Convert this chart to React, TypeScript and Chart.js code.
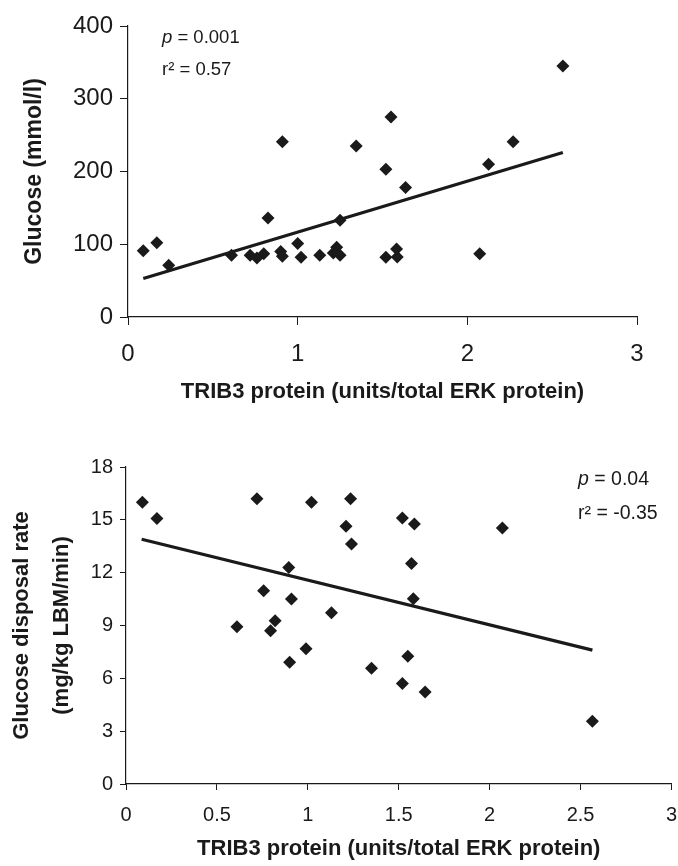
import React, { useEffect, useRef } from "react";
import { Chart, registerables } from "chart.js";

Chart.register(...registerables);

// ---------- Data (top panel: fasting glucose) ----------
const glucoseTrib3 = [
  0.09, 0.17, 0.24, 0.61, 0.72, 0.76, 0.8, 0.825, 0.9, 0.91, 0.91, 1.0, 1.02,
  1.13, 1.21, 1.23, 1.25, 1.25, 1.345, 1.52, 1.55, 1.52, 1.636, 1.583, 1.587,
  2.073, 2.125, 2.27, 2.563,
];
const glucoseValues = [
  91, 102, 71, 85, 85, 81, 87, 136, 90, 241, 83.5, 101, 82, 85, 88, 96, 85, 133,
  235, 203, 275, 82, 178, 93.5, 82.5, 87, 210, 241, 345,
];
const glucoseTrendX = [0.09, 2.563];
const glucoseTrendY = [52.8, 226];
const glucoseXTicks = [0, 1, 2, 3];
const glucoseYTicks = [0, 100, 200, 300, 400];

// ---------- Data (bottom panel: glucose disposal rate) ----------
const gdrTrib3 = [
  0.09, 0.17, 0.72, 1.02, 1.235, 1.21, 1.24, 0.895, 0.757, 0.91, 1.13, 0.61,
  0.82, 0.795, 0.99, 0.9, 1.35, 1.52, 1.586, 2.07, 1.57, 1.58, 1.55, 1.52,
  1.645, 2.565,
];
const gdrValues = [
  16.0, 15.07, 16.2, 16.0, 16.2, 14.63, 13.63, 12.3, 10.97, 10.5, 9.72, 8.93,
  9.27, 8.7, 7.68, 6.91, 6.57, 15.1, 14.77, 14.54, 12.52, 10.52, 7.25, 5.7,
  5.23, 3.57,
];
const gdrTrendX = [0.086, 2.565];
const gdrTrendY = [13.9, 7.6];
const gdrXTicks = [0, 0.5, 1, 1.5, 2, 2.5, 3];
const gdrYTicks = [0, 3, 6, 9, 12, 15, 18];

const xTitle = "TRIB3 protein (units/total ERK protein)";
const glucoseYTitle = "Glucose (mmol/l)";
const gdrYTitle = ["Glucose disposal rate", "(mg/kg LBM/min)"];
const glucoseStats = [
  ["p", " = 0.001"],
  ["", "r\u00B2 = 0.57"],
];
const gdrStats = [
  ["p", " = 0.04"],
  ["", "r\u00B2 = -0.35"],
];

const INK = "#1a1a1a";
const SANS = "'Liberation Sans', Arial, Helvetica, sans-serif";

type PanelSpec = {
  xs: number[];
  ys: number[];
  trendX: number[];
  trendY: number[];
  xTicks: number[];
  yTicks: number[];
  yTitle: string | string[];
  stats: string[][];
  width: number;
  height: number;
  yAxisWidth: number;
  xAxisHeight: number;
  padTop: number;
  padRight: number;
  tickFont: number;
  xTickLen: number;
  yTickLen: number;
  xTickPad: number;
  yTickPad: number;
  yTitleFont: number;
  yTitlePadTop: number;
  yTitleLineHeight: number | string;
  xTitlePadBottom: number;
  statsX: number;
  statsY: number[];
  statsFont: number;
};

function statsPlugin(spec: PanelSpec) {
  return {
    id: "statsText",
    afterDraw(chart: any) {
      const ctx = chart.ctx as CanvasRenderingContext2D;
      ctx.save();
      ctx.fillStyle = INK;
      ctx.textBaseline = "middle";
      ctx.textAlign = "left";
      spec.stats.forEach((parts, i) => {
        let x = spec.statsX;
        const y = spec.statsY[i];
        if (parts[0]) {
          ctx.font = `italic ${spec.statsFont}px ${SANS}`;
          ctx.fillText(parts[0], x, y);
          x += ctx.measureText(parts[0]).width;
        }
        ctx.font = `${spec.statsFont}px ${SANS}`;
        ctx.fillText(parts[1], x, y);
      });
      ctx.restore();
    },
  };
}

function buildConfig(spec: PanelSpec): any {
  const points = spec.xs.map((x, i) => ({ x, y: spec.ys[i] }));
  const trend = spec.trendX.map((x, i) => ({ x, y: spec.trendY[i] }));
  const yMax = spec.yTicks[spec.yTicks.length - 1];
  const xMax = spec.xTicks[spec.xTicks.length - 1];
  return {
    type: "scatter",
    data: {
      datasets: [
        {
          type: "line",
          data: trend,
          borderColor: INK,
          borderWidth: 3.2,
          pointRadius: 0,
          fill: false,
          tension: 0,
          borderCapStyle: "butt",
        },
        {
          type: "scatter",
          data: points,
          pointStyle: "rectRot",
          pointRadius: 6.5,
          backgroundColor: INK,
          borderColor: INK,
          borderWidth: 0,
        },
      ],
    },
    options: {
      responsive: false,
      animation: false,
      devicePixelRatio: 1,
      layout: {
        padding: { top: spec.padTop, right: spec.padRight, left: 0, bottom: 0 },
      },
      plugins: {
        legend: { display: false },
        tooltip: { enabled: false },
      },
      scales: {
        x: {
          type: "linear",
          min: spec.xTicks[0],
          max: xMax,
          afterBuildTicks: (axis: any) => {
            axis.ticks = spec.xTicks.map((v) => ({ value: v }));
          },
          afterFit: (scale: any) => {
            scale.height = spec.xAxisHeight;
            scale.paddingLeft = 0;
            scale.paddingRight = 0;
          },
          ticks: {
            color: INK,
            font: { family: SANS, size: spec.tickFont },
            padding: spec.xTickPad,
            maxRotation: 0,
            autoSkip: false,
            callback: (v: any) => String(v),
          },
          grid: {
            drawOnChartArea: false,
            drawTicks: true,
            tickLength: spec.xTickLen,
            tickColor: INK,
            tickWidth: 1,
          },
          border: { display: true, color: INK, width: 1.2 },
          title: {
            display: true,
            text: xTitle,
            color: INK,
            font: { family: SANS, size: 22, weight: "bold" },
            padding: { top: 0, bottom: spec.xTitlePadBottom },
          },
        },
        y: {
          type: "linear",
          min: spec.yTicks[0],
          max: yMax,
          afterBuildTicks: (axis: any) => {
            axis.ticks = spec.yTicks.map((v) => ({ value: v }));
          },
          afterFit: (scale: any) => {
            scale.width = spec.yAxisWidth;
            scale.paddingTop = 0;
            scale.paddingBottom = 0;
          },
          ticks: {
            color: INK,
            font: { family: SANS, size: spec.tickFont },
            padding: spec.yTickPad,
            autoSkip: false,
            callback: (v: any) => String(v),
          },
          grid: {
            drawOnChartArea: false,
            drawTicks: true,
            tickLength: spec.yTickLen,
            tickColor: INK,
            tickWidth: 1,
          },
          border: { display: true, color: INK, width: 1.2 },
          title: {
            display: true,
            text: spec.yTitle,
            color: INK,
            font: {
              family: SANS,
              size: spec.yTitleFont,
              weight: "bold",
              lineHeight: spec.yTitleLineHeight,
            },
            padding: { top: spec.yTitlePadTop, bottom: 0 },
          },
        },
      },
    },
    plugins: [statsPlugin(spec)],
  };
}

const topSpec: PanelSpec = {
  xs: glucoseTrib3,
  ys: glucoseValues,
  trendX: glucoseTrendX,
  trendY: glucoseTrendY,
  xTicks: glucoseXTicks,
  yTicks: glucoseYTicks,
  yTitle: glucoseYTitle,
  stats: glucoseStats,
  width: 678,
  height: 420,
  yAxisWidth: 128,
  xAxisHeight: 103,
  padTop: 26,
  padRight: 41,
  tickFont: 24,
  xTickLen: 8,
  yTickLen: 8,
  xTickPad: 15,
  yTickPad: 7,
  yTitleFont: 23,
  yTitlePadTop: 21,
  yTitleLineHeight: 1.2,
  xTitlePadBottom: 15,
  statsX: 162,
  statsY: [37.5, 70],
  statsFont: 18.5,
};

const bottomSpec: PanelSpec = {
  xs: gdrTrib3,
  ys: gdrValues,
  trendX: gdrTrendX,
  trendY: gdrTrendY,
  xTicks: gdrXTicks,
  yTicks: gdrYTicks,
  yTitle: gdrYTitle,
  stats: gdrStats,
  width: 678,
  height: 446,
  yAxisWidth: 126,
  xAxisHeight: 82,
  padTop: 47,
  padRight: 5,
  tickFont: 20,
  xTickLen: 6,
  yTickLen: 6,
  xTickPad: 13,
  yTickPad: 7,
  yTitleFont: 22,
  yTitlePadTop: 2,
  yTitleLineHeight: "40px",
  xTitlePadBottom: 4,
  statsX: 578,
  statsY: [60, 94],
  statsFont: 19.5,
};

function Panel({ spec, top }: { spec: PanelSpec; top: number }) {
  const ref = useRef<HTMLCanvasElement | null>(null);
  useEffect(() => {
    if (!ref.current) return;
    const chart = new Chart(ref.current, buildConfig(spec));
    return () => chart.destroy();
  }, [spec]);
  return (
    <canvas
      ref={ref}
      width={spec.width}
      height={spec.height}
      style={{
        position: "absolute",
        left: 0,
        top,
        width: spec.width,
        height: spec.height,
        display: "block",
      }}
    />
  );
}

export default function App() {
  return (
    <div
      style={{
        position: "fixed",
        left: 0,
        top: 0,
        width: 678,
        height: 866,
        overflow: "hidden",
        background: "#ffffff",
      }}
    >
      <Panel spec={topSpec} top={0} />
      <Panel spec={bottomSpec} top={420} />
    </div>
  );
}
